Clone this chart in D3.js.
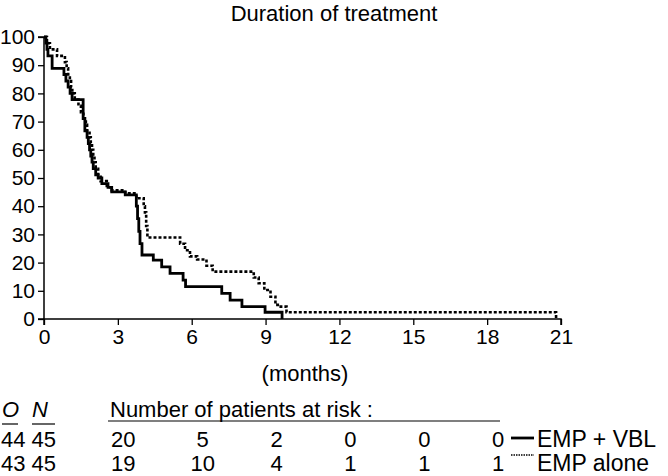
<!DOCTYPE html>
<html><head><meta charset="utf-8">
<script src="https://cdn.jsdelivr.net/npm/d3@7"></script>
<style>body{margin:0;background:#fff}svg{display:block}text{font-family:"Liberation Sans",Arial,sans-serif;fill:#000}</style>
</head><body>
<svg id="c" width="668" height="476"></svg>
<script>
const monthTicks = [0,3,6,9,12,15,18,21];
const pctTicks = [0,10,20,30,40,50,60,70,80,90,100];
const vblTimes = [0,0.08,0.12,0.16,0.33,0.81,0.89,0.98,1.06,1.14,1.59,1.66,1.75,1.8,1.85,1.9,1.95,2.0,2.1,2.2,2.35,2.6,2.75,3.3,3.75,3.8,3.85,3.9,3.98,4.44,4.78,5.12,5.65,5.75,7.22,7.56,8.04,8.98,9.67];
const vblValues = [100,97.8,95.6,93.3,88.9,86.7,84.4,82.2,80.0,77.8,71.1,66.7,64.4,62.2,60.0,57.8,55.6,53.3,51.1,50.0,48.0,46.7,45.1,44.0,40.0,35.6,31.1,26.7,22.7,20.9,18.5,16.2,13.8,11.5,9.1,6.7,4.4,2.4,0];
const aloneTimes = [0,0.12,0.24,0.53,0.85,0.92,0.98,1.05,1.1,1.15,1.25,1.4,1.5,1.6,1.7,1.75,1.85,1.9,1.95,2.0,2.05,2.1,2.2,2.3,2.55,2.75,3.3,3.75,4.05,4.1,4.15,4.2,5.53,5.73,5.93,6.22,6.6,6.85,8.52,8.72,8.95,9.2,9.4,9.55,9.85,20.8];
const aloneValues = [100,97.8,95.6,93.3,91.1,88.9,86.7,84.4,82.2,80.0,77.8,75.6,73.3,71.1,68.9,66.7,64.4,62.2,60.0,57.8,55.6,53.3,51.1,48.9,46.7,45.6,44.6,42.8,40.0,37.8,33.0,28.9,26.7,24.4,22.2,21.1,18.9,16.8,14.7,12.7,10.3,7.9,5.0,4.4,2.4,0];
const riskTimes = [3,6,9,12,15,18];
const riskVBL = [20,5,2,0,0,0];
const riskAlone = [19,10,4,1,1,1];
const groups = ["EMP + VBL","EMP alone"];
const observed = [44,43];
const totals = [45,45];

const svg = d3.select("#c");
const x = d3.scaleLinear().domain([0,21]).range([44,561]);
const y = d3.scaleLinear().domain([0,100]).range([319,37]);

svg.append("text").attr("x",334).attr("y",21).attr("text-anchor","middle").style("font-size","22px").text("Duration of treatment");

const yAxis = svg.append("g").attr("transform","translate(44,0)")
  .call(d3.axisLeft(y).tickValues(pctTicks).tickSize(6).tickPadding(3));
const xAxis = svg.append("g").attr("transform","translate(0,319)")
  .call(d3.axisBottom(x).tickValues(monthTicks).tickSize(6).tickPadding(4));
[yAxis,xAxis].forEach(a=>{
  a.select(".domain").attr("stroke","#000").attr("stroke-width",1.5);
  a.selectAll(".tick line").attr("stroke","#000").attr("stroke-width",1.3);
  a.selectAll("text").style("font-size","21px").style("font-family","'Liberation Sans',Arial,sans-serif").attr("fill","#000");
});
xAxis.select(".domain").attr("d",`M${x(0)},6V0H${x(21)}V6`);
yAxis.select(".domain").attr("d",`M-6,${y(100)}H0V${y(0)}H-6`);

svg.append("text").attr("x",305).attr("y",381).attr("text-anchor","middle").style("font-size","22px").text("(months)");

const line = d3.line().x(d=>x(d[0])).y(d=>y(d[1])).curve(d3.curveStepAfter);
svg.append("path").datum(aloneTimes.map((t,i)=>[t,aloneValues[i]]))
  .attr("d",line).attr("fill","none").attr("stroke","#000").attr("stroke-width",2.6).attr("stroke-dasharray","3,2");
svg.append("path").datum(vblTimes.map((t,i)=>[t,vblValues[i]]))
  .attr("d",line).attr("fill","none").attr("stroke","#000").attr("stroke-width",2.8);

// risk table
const fs = "22px";
const rowY = [447,471];
svg.append("text").attr("x",2).attr("y",417).style("font-size",fs).style("font-style","italic").text("O");
svg.append("text").attr("x",32).attr("y",417).style("font-size",fs).style("font-style","italic").text("N");
svg.append("line").attr("x1",2).attr("x2",18).attr("y1",424).attr("y2",424).attr("stroke","#000").attr("stroke-width",1.2);
svg.append("line").attr("x1",32).attr("x2",55).attr("y1",424).attr("y2",424).attr("stroke","#000").attr("stroke-width",1.2);
svg.append("text").attr("x",110).attr("y",417).style("font-size",fs).text("Number of patients at risk :");
svg.append("line").attr("x1",108).attr("x2",500).attr("y1",421).attr("y2",421).attr("stroke","#000").attr("stroke-width",1.2);
[riskVBL,riskAlone].forEach((arr,r)=>{
  svg.append("text").attr("x",1).attr("y",rowY[r]).style("font-size",fs).text(observed[r]+" "+totals[r]);
  arr.forEach((v,i)=>{
    const t = svg.append("text").attr("y",rowY[r]).style("font-size",fs).text(v);
    if (i === 0) t.attr("x",111);
    else t.attr("x",x(riskTimes[i])+11).attr("text-anchor","middle");
  });
  svg.append("text").attr("x",537).attr("y",rowY[r]).style("font-size","23px").text(groups[r]);
});
svg.append("line").attr("x1",511).attr("x2",534).attr("y1",438).attr("y2",438).attr("stroke","#000").attr("stroke-width",2.8);
svg.append("line").attr("x1",511).attr("x2",534).attr("y1",455).attr("y2",455).attr("stroke","#000").attr("stroke-width",1.5).attr("stroke-dasharray","1.5,1");
</script>
</body></html>
